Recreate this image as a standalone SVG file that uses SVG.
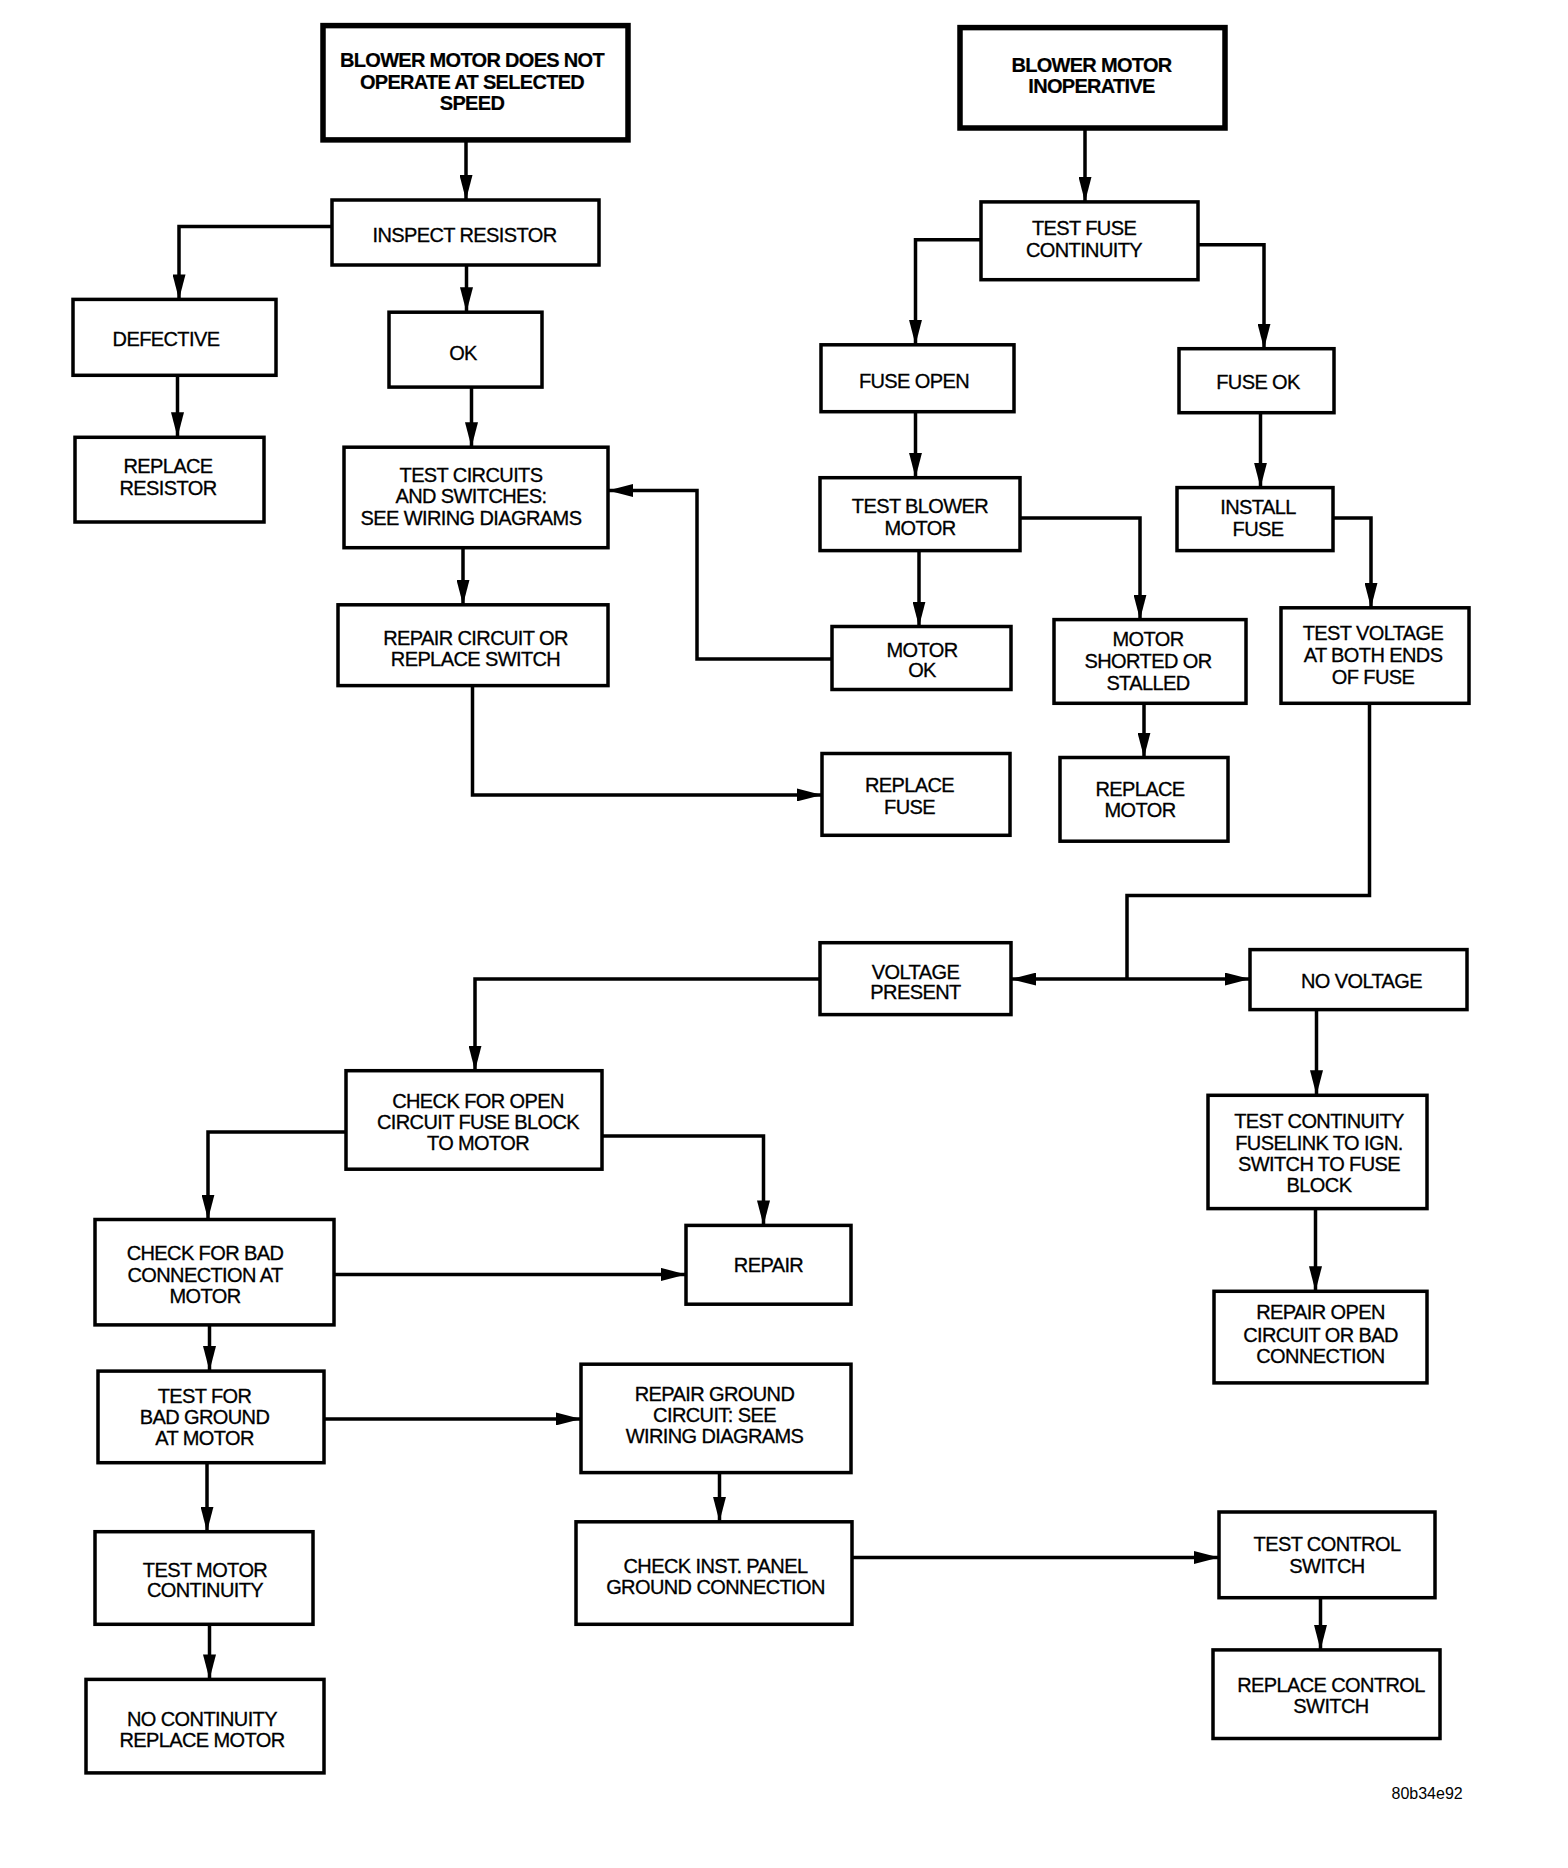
<svg xmlns="http://www.w3.org/2000/svg" width="1568" height="1868" viewBox="0 0 1568 1868">
<style>
.box{fill:#fff;stroke:#000;stroke-width:3.5}
.title{stroke-width:5.5}
.t{font-family:"Liberation Sans",Arial,Helvetica,sans-serif;font-size:20px;letter-spacing:-0.6px;text-anchor:middle;fill:#000;stroke:#000;stroke-width:0.3}
.tb{font-weight:bold;letter-spacing:-0.7px;stroke-width:0.2}
.c{fill:none;stroke:#000;stroke-width:3.5;stroke-linejoin:miter}
.a{marker-end:url(#ah)}
</style>
<defs>
<marker id="ah" markerUnits="userSpaceOnUse" markerWidth="25" markerHeight="13" viewBox="0 0 25 13" refX="25" refY="6.5" orient="auto"><path d="M0,0 L25,6.5 L0,13 z" fill="#000"/></marker>
</defs>
<rect width="1568" height="1868" fill="#fff"/>
<g id="connectors">
<path class="c a" d="M466,139.9 V200"/>
<path class="c a" d="M332,226.5 H179 V299.4"/>
<path class="c a" d="M466.5,265 V312.2"/>
<path class="c a" d="M177.5,375.3 V437.3"/>
<path class="c a" d="M471.5,387.1 V447.2"/>
<path class="c a" d="M463,547.7 V604.8"/>
<path class="c a" d="M472.5,685.6 V794.9 H822"/>
<path class="c a" d="M832,659 H697 V490.5 H608"/>
<path class="c a" d="M1085,128 V201.9"/>
<path class="c a" d="M981,239.8 H915.5 V344.8"/>
<path class="c a" d="M1198,244.8 H1264 V348.7"/>
<path class="c a" d="M915.5,411.7 V477.7"/>
<path class="c a" d="M1260.5,412.7 V487.6"/>
<path class="c a" d="M919,550.6 V626.5"/>
<path class="c a" d="M1020,518.1 H1140 V619.6"/>
<path class="c a" d="M1144,703.3 V757.5"/>
<path class="c a" d="M1333,518.1 H1371 V607.8"/>
<path class="c" d="M1369.5,703.3 V895.4 H1127 V979.1"/>
<path class="c a" d="M1127,979.1 H1011"/>
<path class="c a" d="M1127,979.1 H1250"/>
<path class="c a" d="M820,979.1 H475 V1070.7"/>
<path class="c a" d="M346,1132.1 H208 V1219.5"/>
<path class="c a" d="M602,1136 H763.5 V1225.4"/>
<path class="c a" d="M334,1274.4 H686"/>
<path class="c a" d="M209.5,1324.9 V1371.1"/>
<path class="c a" d="M324,1418.9 H581"/>
<path class="c a" d="M207,1462.7 V1531.7"/>
<path class="c a" d="M209.5,1624.3 V1679.4"/>
<path class="c a" d="M719.5,1472.6 V1521.8"/>
<path class="c a" d="M852,1557.5 H1219"/>
<path class="c a" d="M1320.5,1597.7 V1649.9"/>
<path class="c a" d="M1316.5,1009.6 V1095.3"/>
<path class="c a" d="M1315.5,1208.6 V1291.3"/>
</g>
<g id="n_blower_speed"><rect class="box title" x="323" y="25.6" width="305" height="114.3"/>
<text class="t tb"><tspan x="472" y="67">BLOWER MOTOR DOES NOT</tspan><tspan x="472" y="89.1">OPERATE AT SELECTED</tspan><tspan x="472" y="110.3">SPEED</tspan></text></g>
<g id="n_inspect_resistor"><rect class="box" x="332" y="200" width="267" height="65"/>
<text class="t"><tspan x="464.5" y="242.3">INSPECT RESISTOR</tspan></text></g>
<g id="n_defective"><rect class="box" x="73" y="299.4" width="203" height="75.9"/>
<text class="t"><tspan x="166" y="346.2">DEFECTIVE</tspan></text></g>
<g id="n_replace_resistor"><rect class="box" x="75" y="437.3" width="189" height="84.7"/>
<text class="t"><tspan x="168" y="473.3">REPLACE</tspan><tspan x="168" y="495">RESISTOR</tspan></text></g>
<g id="n_ok"><rect class="box" x="389" y="312.2" width="153" height="74.9"/>
<text class="t"><tspan x="463" y="359.5">OK</tspan></text></g>
<g id="n_test_circuits"><rect class="box" x="344" y="447.2" width="264" height="100.5"/>
<text class="t"><tspan x="471" y="481.7">TEST CIRCUITS</tspan><tspan x="471" y="503.3">AND SWITCHES:</tspan><tspan x="471" y="525">SEE WIRING DIAGRAMS</tspan></text></g>
<g id="n_repair_circuit"><rect class="box" x="338" y="604.8" width="270" height="80.8"/>
<text class="t"><tspan x="475.5" y="644.7">REPAIR CIRCUIT OR</tspan><tspan x="475.5" y="666.4">REPLACE SWITCH</tspan></text></g>
<g id="n_blower_inop"><rect class="box title" x="960" y="27.6" width="265" height="100.4"/>
<text class="t tb"><tspan x="1091.5" y="71.9">BLOWER MOTOR</tspan><tspan x="1091.5" y="92.6">INOPERATIVE</tspan></text></g>
<g id="n_test_fuse"><rect class="box" x="981" y="201.9" width="217" height="77.8"/>
<text class="t"><tspan x="1084" y="235.4">TEST FUSE</tspan><tspan x="1084" y="256.6">CONTINUITY</tspan></text></g>
<g id="n_fuse_open"><rect class="box" x="821" y="344.8" width="193" height="66.9"/>
<text class="t"><tspan x="914" y="388.1">FUSE OPEN</tspan></text></g>
<g id="n_fuse_ok"><rect class="box" x="1179" y="348.7" width="155" height="64"/>
<text class="t"><tspan x="1258" y="389.1">FUSE OK</tspan></text></g>
<g id="n_test_blower"><rect class="box" x="820" y="477.7" width="200" height="72.9"/>
<text class="t"><tspan x="920" y="513.2">TEST BLOWER</tspan><tspan x="920" y="534.9">MOTOR</tspan></text></g>
<g id="n_install_fuse"><rect class="box" x="1177" y="487.6" width="156" height="63"/>
<text class="t"><tspan x="1258" y="514.2">INSTALL</tspan><tspan x="1258" y="535.8">FUSE</tspan></text></g>
<g id="n_motor_ok"><rect class="box" x="832" y="626.5" width="179" height="63"/>
<text class="t"><tspan x="922" y="656.5">MOTOR</tspan><tspan x="922" y="677.2">OK</tspan></text></g>
<g id="n_motor_shorted"><rect class="box" x="1054" y="619.6" width="192" height="83.7"/>
<text class="t"><tspan x="1148" y="646.2">MOTOR</tspan><tspan x="1148" y="667.8">SHORTED OR</tspan><tspan x="1148" y="689.5">STALLED</tspan></text></g>
<g id="n_test_voltage"><rect class="box" x="1281" y="607.8" width="188" height="95.5"/>
<text class="t"><tspan x="1373" y="640.3">TEST VOLTAGE</tspan><tspan x="1373" y="662">AT BOTH ENDS</tspan><tspan x="1373" y="683.7">OF FUSE</tspan></text></g>
<g id="n_replace_fuse"><rect class="box" x="822" y="753.5" width="188" height="81.8"/>
<text class="t"><tspan x="909.5" y="792">REPLACE</tspan><tspan x="909.5" y="813.6">FUSE</tspan></text></g>
<g id="n_replace_motor"><rect class="box" x="1060" y="757.5" width="168" height="83.7"/>
<text class="t"><tspan x="1140" y="796.4">REPLACE</tspan><tspan x="1140" y="817.1">MOTOR</tspan></text></g>
<g id="n_voltage_present"><rect class="box" x="820" y="942.7" width="191" height="71.9"/>
<text class="t"><tspan x="915.5" y="979.1">VOLTAGE</tspan><tspan x="915.5" y="999.3">PRESENT</tspan></text></g>
<g id="n_no_voltage"><rect class="box" x="1250" y="949.6" width="217" height="60"/>
<text class="t"><tspan x="1361.5" y="987.5">NO VOLTAGE</tspan></text></g>
<g id="n_check_open"><rect class="box" x="346" y="1070.7" width="256" height="98.5"/>
<text class="t"><tspan x="478" y="1108.1">CHECK FOR OPEN</tspan><tspan x="478" y="1128.8">CIRCUIT FUSE BLOCK</tspan><tspan x="478" y="1149.5">TO MOTOR</tspan></text></g>
<g id="n_check_bad_conn"><rect class="box" x="95" y="1219.5" width="239" height="105.4"/>
<text class="t"><tspan x="205" y="1260.2">CHECK FOR BAD</tspan><tspan x="205" y="1281.8">CONNECTION AT</tspan><tspan x="205" y="1302.5">MOTOR</tspan></text></g>
<g id="n_repair"><rect class="box" x="686" y="1225.4" width="165" height="78.8"/>
<text class="t"><tspan x="768.5" y="1271.9">REPAIR</tspan></text></g>
<g id="n_test_continuity_fuselink"><rect class="box" x="1208" y="1095.3" width="219" height="113.3"/>
<text class="t"><tspan x="1319" y="1127.8">TEST CONTINUITY</tspan><tspan x="1319" y="1149.5">FUSELINK TO IGN.</tspan><tspan x="1319" y="1171.2">SWITCH TO FUSE</tspan><tspan x="1319" y="1192.4">BLOCK</tspan></text></g>
<g id="n_test_bad_ground"><rect class="box" x="98" y="1371.1" width="226" height="91.6"/>
<text class="t"><tspan x="204.5" y="1402.7">TEST FOR</tspan><tspan x="204.5" y="1424.3">BAD GROUND</tspan><tspan x="204.5" y="1445">AT MOTOR</tspan></text></g>
<g id="n_repair_ground"><rect class="box" x="581" y="1364.2" width="270" height="108.4"/>
<text class="t"><tspan x="714.5" y="1400.7">REPAIR GROUND</tspan><tspan x="714.5" y="1422.4">CIRCUIT: SEE</tspan><tspan x="714.5" y="1443">WIRING DIAGRAMS</tspan></text></g>
<g id="n_repair_open"><rect class="box" x="1214" y="1291.3" width="213" height="91.6"/>
<text class="t"><tspan x="1320.5" y="1319.4">REPAIR OPEN</tspan><tspan x="1320.5" y="1342.1">CIRCUIT OR BAD</tspan><tspan x="1320.5" y="1363.3">CONNECTION</tspan></text></g>
<g id="n_test_motor_cont"><rect class="box" x="95" y="1531.7" width="218" height="92.6"/>
<text class="t"><tspan x="205" y="1576.5">TEST MOTOR</tspan><tspan x="205" y="1597.2">CONTINUITY</tspan></text></g>
<g id="n_check_inst"><rect class="box" x="576" y="1521.8" width="276" height="102.5"/>
<text class="t"><tspan x="715.5" y="1572.6">CHECK INST. PANEL</tspan><tspan x="715.5" y="1593.8">GROUND CONNECTION</tspan></text></g>
<g id="n_test_control"><rect class="box" x="1219" y="1512" width="216" height="85.7"/>
<text class="t"><tspan x="1327" y="1551.4">TEST CONTROL</tspan><tspan x="1327" y="1572.6">SWITCH</tspan></text></g>
<g id="n_no_continuity"><rect class="box" x="86" y="1679.4" width="238" height="93.5"/>
<text class="t"><tspan x="202" y="1726.2">NO CONTINUITY</tspan><tspan x="202" y="1747.4">REPLACE MOTOR</tspan></text></g>
<g id="n_replace_control"><rect class="box" x="1213" y="1649.9" width="227" height="88.6"/>
<text class="t"><tspan x="1331" y="1692.3">REPLACE CONTROL</tspan><tspan x="1331" y="1713">SWITCH</tspan></text></g>
<text x="1391.5" y="1798.6" font-family="'Liberation Sans',Arial,sans-serif" font-size="16" fill="#000">80b34e92</text>
</svg>
